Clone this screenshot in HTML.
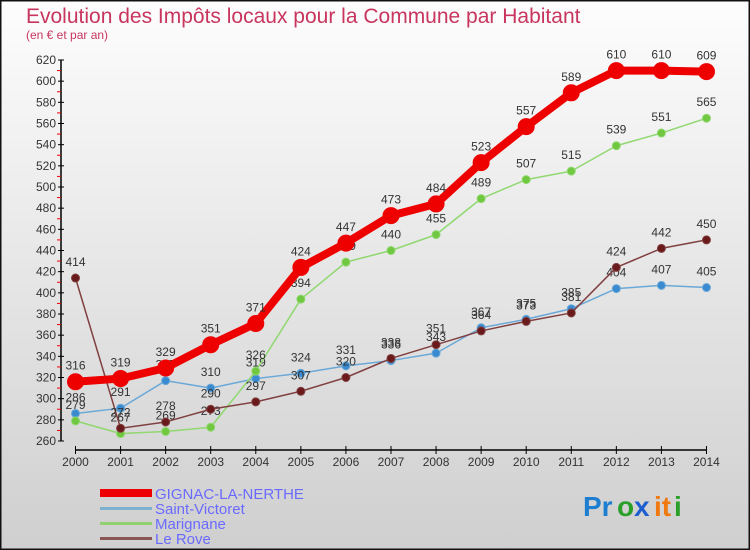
<!DOCTYPE html>
<html><head><meta charset="utf-8"><style>
body{margin:0}
#c{width:750px;height:550px;position:relative;overflow:hidden;font-family:"Liberation Sans",sans-serif}
</style></head><body>
<div id="c">
<svg id="s" width="750" height="550" xmlns="http://www.w3.org/2000/svg">
<defs><linearGradient id="bg" x1="0" y1="0" x2="0" y2="1"><stop offset="0" stop-color="#fdfdfd"/><stop offset="1" stop-color="#cfcfcf"/></linearGradient></defs>
<rect x="0.5" y="0.5" width="749" height="549" fill="url(#bg)" stroke="#111" stroke-width="2"/>
<text x="26" y="23" font-size="21" fill="#c8355e">Evolution des Impôts locaux pour la Commune par Habitant</text>
<text x="26" y="39" font-size="12" fill="#c8355e">(en € et par an)</text>
<g id="axes"></g><g id="series"></g>
<g>
<rect x="100" y="489" width="52" height="8" fill="#e00"/>
<text x="155" y="499" font-size="15" fill="#6a6aff">GIGNAC-LA-NERTHE</text>
<rect x="100" y="507" width="52" height="3" fill="#7fb0d0"/>
<text x="155" y="514" font-size="15" fill="#6a6aff">Saint-Victoret</text>
<rect x="100" y="522" width="52" height="3" fill="#90d070"/>
<text x="155" y="529" font-size="15" fill="#6a6aff">Marignane</text>
<rect x="100" y="537" width="52" height="3" fill="#8a5555"/>
<text x="155" y="544" font-size="15" fill="#6a6aff">Le Rove</text>
</g>
<g font-size="28" font-weight="bold">
<text x="583" y="516" fill="#1e7fd0">Pr</text><text x="617" y="516" fill="#2aa02a">o</text><text x="634" y="516" fill="#1e5fd0">x</text><text x="654" y="516" fill="#f07a10">it</text><text x="674" y="516" fill="#2aa02a">i</text>
</g>
</svg></div>
<script>
const years=["2000","2001","2002","2003","2004","2005","2006","2007","2008","2009","2010","2011","2012","2013","2014"];
const gignac=[316,319,329,351,371,424,447,473,484,523,557,589,610,610,609];
const saintVictoret=[286,291,317,310,319,324,331,336,343,367,375,385,404,407,405];
const marignane=[279,267,269,273,326,394,429,440,455,489,507,515,539,551,565];
const leRove=[414,272,278,290,297,307,320,338,351,364,373,381,424,442,450];
const yTicks=[260,280,300,320,340,360,380,400,420,440,460,480,500,520,540,560,580,600,620];
const NS="http://www.w3.org/2000/svg";
const X=i=>75.5+i*45.07, Y=v=>441-(v-260)*(381/360);
function mk(t,a,p){const e=document.createElementNS(NS,t);for(const k in a)e.setAttribute(k,a[k]);p.appendChild(e);return e;}
const ax=document.getElementById('axes');
let e=mk('line',{x1:61,y1:Y(620),x2:61,y2:441,stroke:'#000','stroke-width':1.5},ax);

e=mk('line',{x1:75,y1:450,x2:706,y2:450,stroke:'#000','stroke-width':1.5},ax);

yTicks.forEach((v,i)=>{
 mk('line',{x1:58,y1:Y(v),x2:64,y2:Y(v),stroke:'#000'},ax);
 if(i<yTicks.length-1)mk('line',{x1:57,y1:Y(v+10),x2:61,y2:Y(v+10),stroke:'#e00'},ax);
 const t=mk('text',{x:56,y:Y(v)+4,'font-size':12,'text-anchor':'end',fill:'#333'},ax);t.textContent=v;
 
});
years.forEach((y,i)=>{
 mk('line',{x1:X(i),y1:446,x2:X(i),y2:454,stroke:'#000'},ax);
 const t=mk('text',{x:X(i),y:466,'font-size':12,'text-anchor':'middle',fill:'#333'},ax);t.textContent=y;
 
});
const sg=document.getElementById('series');
function series(vals,name,color,dot,w,r){
 const g=mk('g',{},sg);
 const p=mk('polyline',{points:vals.map((v,i)=>X(i)+','+Y(v)).join(' '),fill:'none',stroke:color,'stroke-width':w,'stroke-linejoin':'round'},g);
 
 vals.forEach((v,i)=>{
  const c=mk('circle',{cx:X(i),cy:Y(v),r:r,fill:dot,stroke:color,'stroke-width':1},g);
  
  const t=mk('text',{x:X(i),y:Y(v)-12,'font-size':12,'text-anchor':'middle',fill:'#333'},g);t.textContent=v;
  
 });
}
series(saintVictoret,'saint-victoret','#6aa8d8','#3a8ad0',1.5,4);
series(marignane,'marignane','#90d870','#70c840',1.5,4);
series(leRove,'le-rove','#804040','#6a1a1a',1.5,4);
series(gignac,'gignac-la-nerthe','#ee0000','#ee0000',8,8);
</script>
</body></html>
